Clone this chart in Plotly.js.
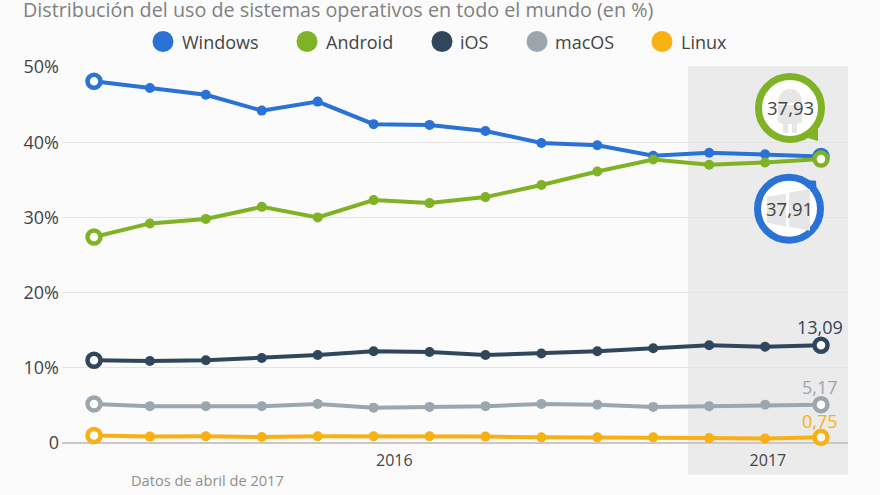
<!DOCTYPE html>
<html><head><meta charset="utf-8">
<script src="https://cdn.plot.ly/plotly-3.0.1.min.js"></script>
<style>html,body{margin:0;padding:0;background:#fbfbfb}</style></head>
<body><div id="chart" style="width:880px;height:495px"></div>
<script>
const periods = [1,2,3,4,5,6,7,8,9,10,11,12,13,14];
const windows = [48.1,47.2,46.3,44.2,45.4,42.4,42.3,41.5,39.9,39.6,38.2,38.6,38.4,38.1];
const android = [27.4,29.2,29.8,31.4,30.0,32.3,31.9,32.7,34.3,36.1,37.7,37.0,37.3,37.75];
const ios = [11.0,10.9,11.0,11.3,11.7,12.2,12.1,11.7,11.9,12.2,12.6,13.0,12.8,13.0];
const macos = [5.2,4.9,4.9,4.9,5.2,4.7,4.8,4.9,5.2,5.1,4.8,4.9,5.1,5.1];
const linux = [1.0,0.85,0.9,0.8,0.9,0.9,0.9,0.85,0.75,0.75,0.75,0.65,0.6,0.75];
const names = ['Windows','Android','iOS','macOS','Linux'];
const colors = ['#2a72d5','#7fb224','#2f465c','#9ba6ae','#f8b013'];
const series = [windows,android,ios,macos,linux];
const yTicks = [0,10,20,30,40,50];
const yLabels = ['0','10%','20%','30%','40%','50%'];
const xTicks = [6.37,13.05];
const xLabels = ['2016','2017'];
const title = 'Distribución del uso de sistemas operativos en todo el mundo (en %)';
const source = 'Datos de abril de 2017';
const endLabels = ['37,91','37,93','13,09','5,17','0,75'];
const legendDotX = [163,307,442,537,662];
const legendTextX = [180,324,458,553,679];

const W=880,H=495,L=62,R=848,T=67,B=443.5;
const X=p=>(p-L)/(R-L), Y=p=>(B-p)/(B-T);
const traces=[];
series.forEach((v,i)=>{
  traces.push({x:periods,y:v,type:'scatter',mode:'lines+markers',cliponaxis:false,
    line:{color:colors[i],width:4},marker:{color:colors[i],size:10},
    showlegend:false,hoverinfo:'skip'});
});
series.forEach((v,i)=>{
  const last=periods.length-1;
  traces.push({x:[periods[0],periods[last]],y:[v[0],v[last]],type:'scatter',mode:'markers',cliponaxis:false,
    marker:{color:'#ffffff',size:13,line:{color:colors[i],width:4.5}},
    showlegend:false,hoverinfo:'skip'});
});
traces.push({x:[790,789],y:[108,209],xaxis:'x2',yaxis:'y2',type:'scatter',mode:'markers',cliponaxis:false,
  marker:{color:'#ffffff',size:63,line:{color:[colors[1],colors[0]],width:7}},showlegend:false,hoverinfo:'skip'});

const pa={xref:'paper',yref:'paper',showarrow:false,xanchor:'center',yanchor:'middle'};
const ann=[];
names.forEach((n,i)=>ann.push({...pa,x:X(legendTextX[i]),y:Y(41.5),xanchor:'left',text:n,font:{family:'Open Sans',size:18,color:'#444444'}}));
ann.push({...pa,x:X(820),y:Y(327),text:endLabels[2],font:{family:'Open Sans',size:18,color:colors[2]}});
ann.push({...pa,x:X(820),y:Y(387),text:endLabels[3],font:{family:'Open Sans',size:18,color:colors[3]}});
ann.push({...pa,x:X(820),y:Y(421),text:endLabels[4],font:{family:'Open Sans',size:18,color:colors[4]}});
ann.push({...pa,x:X(790),y:Y(108),text:endLabels[1],font:{family:'Open Sans',size:18.5,color:'#444444'}});
ann.push({...pa,x:X(789),y:Y(209),text:endLabels[0],font:{family:'Open Sans',size:18.5,color:'#444444'}});
ann.push({...pa,x:X(21),y:Y(9),xanchor:'left',text:title,font:{family:'Open Sans',size:19.75,color:'#808080'}});
ann.push({...pa,x:X(129),y:Y(481),xanchor:'left',text:source,font:{family:'Open Sans',size:14.6,color:'#8f8f8f'}});

const ic='#e6e6e6';
const sh=(path,fill)=>({type:'path',xref:'x2',yref:'y2',path,fillcolor:fill,line:{width:0},layer:'above'});
const shapes=[
  {type:'rect',xref:'paper',yref:'paper',x0:X(688),x1:1,y0:Y(475),y1:Y(66),fillcolor:'#ebebeb',line:{width:0},layer:'below'},
  sh('M805,137 L818,141 L818,125 Z',colors[1]),
  sh('M803,180 L816,181 L817,197 Z',colors[0]),
  sh('M778,103 C778,84 802,84 802,103 Z',ic),
  sh('M778,105 L802,105 L802,122 L797,124 L797,133 L792,133 L792,124 L788,124 L788,133 L783,133 L783,124 L778,122 Z',ic),
  sh('M767,197 L786,194 L786,227 L767,223 Z',ic),
  sh('M789,193 L810,189 L810,231 L789,227 Z',ic)
];
legendDotX.forEach((c,i)=>shapes.push({type:'circle',xref:'paper',yref:'paper',x0:X(c-10.5),x1:X(c+10.5),y0:Y(52),y1:Y(31),fillcolor:colors[i],line:{width:0},layer:'above'}));

const layout={
  width:W,height:H,paper_bgcolor:'#fbfbfb',plot_bgcolor:'rgba(0,0,0,0)',
  margin:{l:L,r:W-R,t:T,b:H-B},showlegend:false,
  xaxis:{range:[1-32/55.93,14+27/55.93],tickvals:xTicks,ticktext:xLabels,showgrid:false,zeroline:false,showline:false,ticks:'',
    ticklabelstandoff:6,tickfont:{family:'Open Sans',size:16,color:'#444444'}},
  yaxis:{range:[0,50],tickvals:yTicks,ticktext:yLabels,gridcolor:'#e4e4e4',gridwidth:1,zeroline:true,zerolinecolor:'#c8c8c8',zerolinewidth:1.5,showline:false,ticks:'',
    ticklabelstandoff:2,tickfont:{family:'Open Sans',size:18,color:'#444444'}},
  xaxis2:{range:[L,R],overlaying:'x',visible:false,anchor:'y2'},
  yaxis2:{range:[B,T],overlaying:'y',visible:false,anchor:'x2'},
  shapes,annotations:ann
};
Plotly.newPlot('chart',traces,layout,{staticPlot:true,displayModeBar:false});
</script></body></html>
